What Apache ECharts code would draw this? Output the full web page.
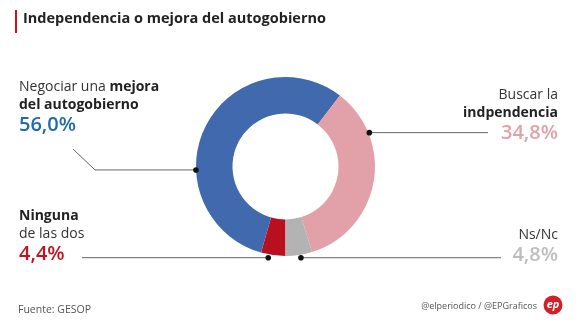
<!DOCTYPE html>
<html><head><meta charset="utf-8">
<script src="https://cdn.jsdelivr.net/npm/echarts@6/dist/echarts.min.js"></script>
<style>html,body{margin:0;padding:0;background:#fff}#c{width:580px;height:332px}</style>
</head><body><div id="c"></div>
<script>
// Survey answers, drawn clockwise from the bottom of the ring
const categories = ['Ninguna de las dos', 'Negociar una mejora del autogobierno', 'Buscar la indpendencia', 'Ns/Nc'];
const values = [4.4, 56.0, 34.8, 4.8];
const sliceColors = ['#b8101f', '#4169ad', '#e2a1a8', '#b3b3b3'];
const valueColors = ['#c0141f', '#1f6ab3', '#e3a0a8', '#bdbdbd'];

// Label text lines: [text parts], each part [string, bold]
const labelLines = [
  [[['Ninguna', true]], [['de las dos', false]]],
  [[['Negociar una ', false], ['mejora', true]], [['del autogobierno', true]]],
  [[['Buscar la', false]], [['indpendencia', true]]],
  [[['Ns/Nc', false]]]
];

// Layout
const FONT = '"Open Sans", "Noto Sans", sans-serif';
const CX = 285.5, CY = 166.5, R_IN = 53, R_OUT = 89.5;
const layout = [
  { x: 19, y: 216, align: 'left', anchorAngle: 190.7, anchorR: 92.8, path: [[82, 0]] },
  { x: 19, y: 87, align: 'left', anchorAngle: 267.8, anchorR: 89.6, path: [[95, 0], [73, 149]] },
  { x: 558, y: 95, align: 'right', anchorAngle: 68, anchorR: 90.4, path: [[488, 0]] },
  { x: 558, y: 235, align: 'right', anchorAngle: 170.4, anchorR: 92.5, path: [[501, 0]] }
];
const LINE_H = 18.3;

const fmt = v => v.toFixed(1).replace('.', ',') + '%';

const graphics = [];
// Title with red accent bar
graphics.push({ type: 'rect', shape: { x: 15, y: 10, width: 2, height: 23 }, style: { fill: '#c0141f' } });
graphics.push({ type: 'text', x: 23, y: 18.5, style: { text: 'Independencia o mejora del autogobierno', font: '700 14.5px ' + FONT, fill: '#222', textVerticalAlign: 'middle' } });

labelLines.forEach((lines, i) => {
  const L = layout[i];
  lines.forEach((parts, j) => {
    const rich = { r: { font: '400 14px ' + FONT, fill: '#333' }, b: { font: '700 14px ' + FONT, fill: '#222' } };
    const text = parts.map(p => '{' + (p[1] ? 'b' : 'r') + '|' + p[0] + '}').join('');
    graphics.push({ type: 'text', x: L.x, y: L.y + j * LINE_H, style: { text, rich, textAlign: L.align, textVerticalAlign: 'middle' } });
  });
  const vy = L.y + lines.length * LINE_H + 1.5;
  graphics.push({ type: 'text', x: L.x, y: vy, style: { text: fmt(values[i]), font: '600 20px ' + FONT, fill: valueColors[i], textAlign: L.align, textVerticalAlign: 'middle' } });

  // leader line from the ring edge
  const a = L.anchorAngle * Math.PI / 180;
  const ax = CX + L.anchorR * Math.sin(a), ay = CY - L.anchorR * Math.cos(a);
  const pts = [[ax, ay]].concat(L.path.map(p => [p[0], p[1] === 0 ? ay : p[1]]));
  graphics.push({ type: 'polyline', shape: { points: pts }, style: { stroke: '#666', lineWidth: 1, fill: null } });
  graphics.push({ type: 'circle', shape: { cx: ax, cy: ay, r: 2.8 }, style: { fill: '#111' }, z: 10 });
});

// Footer
graphics.push({ type: 'text', x: 18, y: 310, style: { text: 'Fuente: GESOP', font: '400 10.5px ' + FONT, fill: '#555', textVerticalAlign: 'middle' } });
graphics.push({ type: 'text', x: 537, y: 306, style: { text: '@elperiodico / @EPGraficos', font: '400 9px ' + FONT, fill: '#555', textAlign: 'right', textVerticalAlign: 'middle' } });
graphics.push({ type: 'circle', shape: { cx: 553, cy: 305, r: 9.5 }, style: { fill: '#d0202a' } });
graphics.push({ type: 'text', x: 553, y: 305, style: { text: 'ep', font: 'italic 700 11px ' + FONT, fill: '#fff', textAlign: 'center', textVerticalAlign: 'middle' } });

const chart = echarts.init(document.getElementById('c'), null, { renderer: 'canvas' });
chart.setOption({
  backgroundColor: '#fff',
  animation: false,
  series: [{
    type: 'pie',
    center: [CX, CY],
    radius: [R_IN, R_OUT],
    startAngle: 270,
    clockwise: true,
    silent: true,
    label: { show: false },
    labelLine: { show: false },
    data: categories.map((c, i) => ({ name: c, value: values[i], itemStyle: { color: sliceColors[i] } }))
  }],
  graphic: graphics
});
</script></body></html>
